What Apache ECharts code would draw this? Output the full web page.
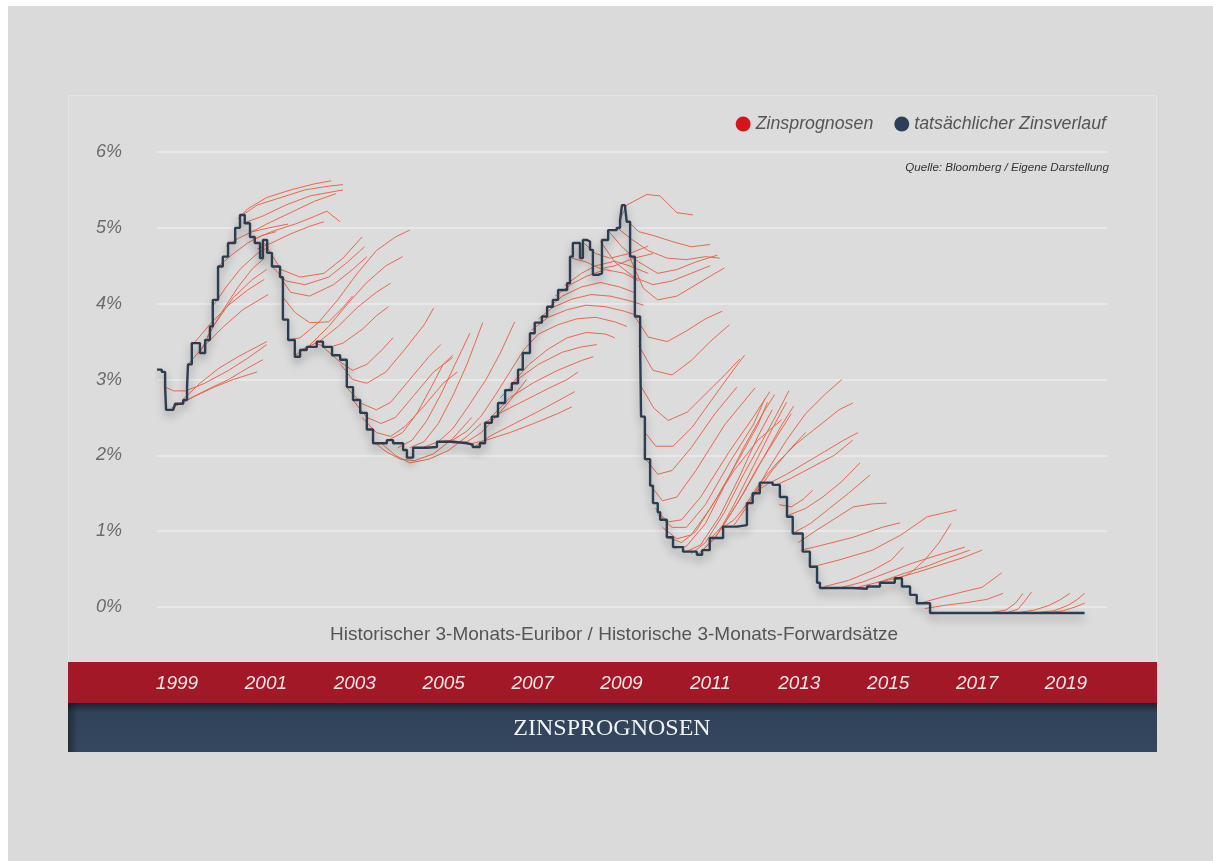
<!DOCTYPE html>
<html><head><meta charset="utf-8">
<script src="https://cdn.jsdelivr.net/npm/echarts@6/dist/echarts.min.js"></script>
<style>html,body{margin:0;padding:0;background:#fff;}#c{width:1213px;height:861px;}</style>
</head><body><div id="c"></div>
<script>
const yearLabels = ['1999','2001','2003','2005','2007','2009','2011','2013','2015','2017','2019'];
const yTicks = [0,1,2,3,4,5,6];

const euribor = [
[1999.00,3.13],[1999.10,3.10],[1999.17,2.90],[1999.19,2.60],[1999.34,2.60],[1999.38,2.68],[1999.55,2.73],[1999.63,2.90],[1999.65,3.20],[1999.73,3.48],[1999.84,3.48],[1999.90,3.35],[2000.01,3.52],[2000.11,3.70],[2000.17,4.05],[2000.28,4.49],[2000.38,4.62],[2000.49,4.80],[2000.64,5.00],[2000.74,5.17],[2000.84,5.06],[2000.95,4.88],[2001.05,4.80],[2001.16,4.60],[2001.22,4.84],[2001.31,4.67],[2001.41,4.49],[2001.58,4.35],[2001.64,3.79],[2001.75,3.52],[2001.89,3.30],[2002.00,3.39],[2002.14,3.43],[2002.35,3.50],[2002.48,3.43],[2002.67,3.32],[2002.84,3.26],[2002.98,2.90],[2003.11,2.73],[2003.26,2.56],[2003.40,2.34],[2003.53,2.16],[2003.68,2.16],[2003.82,2.20],[2003.95,2.16],[2004.16,2.07],[2004.24,1.97],[2004.37,2.10],[2004.66,2.11],[2004.87,2.18],[2005.21,2.16],[2005.50,2.14],[2005.62,2.11],[2005.77,2.16],[2005.88,2.43],[2006.02,2.51],[2006.15,2.69],[2006.30,2.86],[2006.44,2.95],[2006.57,3.13],[2006.67,3.35],[2006.82,3.61],[2006.92,3.75],[2007.07,3.83],[2007.18,3.96],[2007.30,4.05],[2007.41,4.18],[2007.60,4.27],[2007.66,4.62],[2007.72,4.80],[2007.81,4.80],[2007.87,4.60],[2007.93,4.84],[2008.01,4.82],[2008.08,4.71],[2008.14,4.38],[2008.25,4.40],[2008.33,4.84],[2008.46,4.97],[2008.64,5.00],[2008.71,5.10],[2008.75,5.30],[2008.81,5.30],[2008.85,5.08],[2008.92,4.62],[2009.02,3.83],[2009.13,3.48],[2009.15,2.51],[2009.23,1.95],[2009.34,1.60],[2009.40,1.37],[2009.50,1.25],[2009.55,1.15],[2009.69,0.92],[2009.82,0.79],[2010.03,0.73],[2010.32,0.69],[2010.43,0.75],[2010.59,0.91],[2010.87,1.06],[2011.16,1.08],[2011.37,1.37],[2011.49,1.50],[2011.64,1.64],[2011.91,1.61],[2012.06,1.45],[2012.21,1.19],[2012.33,0.97],[2012.54,0.73],[2012.69,0.53],[2012.84,0.32],[2012.90,0.25],[2013.32,0.25],[2013.59,0.24],[2013.89,0.27],[2014.16,0.32],[2014.47,0.38],[2014.62,0.27],[2014.79,0.16],[2014.93,0.05],[2015.21,-0.08],[2018.45,-0.08]
];

const fwd1999to2001 = [
[[1999.17,2.90],[1999.35,2.85],[1999.6,2.85],[2000.0,2.95],[2000.5,3.12],[2000.9,3.28],[2001.3,3.46]],
[[1999.3,2.62],[1999.6,2.72],[2000.0,2.85],[2000.5,3.0],[2000.9,3.15],[2001.22,3.26]],
[[1999.42,2.66],[1999.8,2.78],[2000.2,2.9],[2000.6,3.0],[2001.1,3.1]],
[[1999.55,2.74],[1999.9,2.95],[2000.3,3.15],[2000.7,3.3],[2001.3,3.5]],
[[1999.65,3.2],[2000.0,3.45],[2000.4,3.7],[2000.8,3.92],[2001.33,4.12]],
[[1999.75,3.46],[2000.1,3.72],[2000.5,3.98],[2000.9,4.18],[2001.25,4.32]],
[[1999.9,3.36],[2000.2,3.72],[2000.6,4.08],[2001.0,4.32],[2001.3,4.45]],
[[2000.05,3.56],[2000.35,3.88],[2000.7,4.22],[2001.0,4.46],[2001.25,4.6]],
[[2000.15,3.95],[2000.45,4.22],[2000.75,4.46],[2001.1,4.66],[2001.35,4.75]],
[[2000.3,4.5],[2000.6,4.66],[2000.9,4.8],[2001.2,4.9],[2001.5,4.95]],
[[2000.45,4.76],[2000.7,4.86],[2001.0,4.95],[2001.35,5.0],[2001.75,5.05]],
[[2000.7,5.12],[2000.9,5.25],[2001.3,5.4],[2001.8,5.5],[2002.3,5.58],[2002.65,5.62]],
[[2000.75,5.15],[2001.1,5.3],[2001.6,5.4],[2002.1,5.5],[2002.6,5.55],[2002.9,5.57]],
[[2000.8,5.06],[2001.2,5.15],[2001.7,5.3],[2002.2,5.42],[2002.9,5.5]],
[[2000.9,4.92],[2001.3,5.05],[2001.8,5.2],[2002.3,5.35],[2002.75,5.45]],
[[2001.0,4.84],[2001.4,4.95],[2001.9,5.05],[2002.3,5.15],[2002.56,5.22],[2002.84,5.08]],
[[2001.1,4.72],[2001.4,4.8],[2001.8,4.92],[2002.2,5.02],[2002.5,5.08]],
[[2001.25,4.8],[2001.6,4.45],[2002.0,4.35],[2002.5,4.4],[2002.9,4.6],[2003.3,4.88]],
[[2001.4,4.5],[2001.7,4.3],[2002.1,4.25],[2002.6,4.35],[2003.0,4.55],[2003.35,4.75]],
[[2001.55,4.38],[2001.8,4.15],[2002.2,4.1],[2002.7,4.25],[2003.1,4.45],[2003.4,4.62]],
[[2001.62,4.1],[2001.9,3.88],[2002.2,3.75],[2002.6,3.76],[2002.9,3.95],[2003.1,4.1]]
];

const fwd2002to2005 = [
[[2001.75,3.52],[2002.0,3.55],[2002.4,3.76],[2002.8,4.06],[2003.2,4.4],[2003.6,4.7],[2004.0,4.88],[2004.3,4.97]],
[[2001.9,3.32],[2002.2,3.45],[2002.6,3.7],[2003.0,4.0],[2003.4,4.28],[2003.8,4.5],[2004.15,4.62]],
[[2002.05,3.4],[2002.4,3.5],[2002.8,3.7],[2003.2,3.95],[2003.6,4.15],[2003.9,4.27]],
[[2002.3,3.48],[2002.6,3.42],[2002.9,3.48],[2003.3,3.66],[2003.6,3.84],[2003.85,3.96]],
[[2002.5,3.42],[2002.8,3.25],[2003.1,3.12],[2003.4,3.2],[2003.7,3.38],[2003.95,3.55]],
[[2002.85,3.2],[2003.1,3.0],[2003.4,2.95],[2003.8,3.1],[2004.2,3.4],[2004.6,3.72],[2004.8,3.94]],
[[2003.0,2.88],[2003.3,2.68],[2003.6,2.6],[2003.9,2.7],[2004.3,3.0],[2004.7,3.3],[2004.95,3.46]],
[[2003.12,2.72],[2003.4,2.5],[2003.7,2.42],[2004.0,2.5],[2004.4,2.8],[2004.8,3.1],[2005.2,3.29]],
[[2003.3,2.5],[2003.6,2.3],[2003.9,2.25],[2004.2,2.38],[2004.6,2.65],[2005.0,2.95],[2005.3,3.1]],
[[2003.5,2.2],[2003.8,2.05],[2004.1,1.95],[2004.4,1.93],[2004.8,2.02],[2005.2,2.22],[2005.6,2.5]],
[[2003.7,2.16],[2004.0,2.0],[2004.3,1.9],[2004.7,1.95],[2005.1,2.06],[2005.5,2.25],[2005.8,2.42]],
[[2003.85,2.2],[2004.15,2.3],[2004.45,2.55],[2004.75,2.9],[2005.0,3.2],[2005.2,3.32]],
[[2004.05,2.1],[2004.35,2.2],[2004.65,2.45],[2004.95,2.8],[2005.25,3.2],[2005.56,3.61]],
[[2004.3,2.1],[2004.6,2.18],[2004.9,2.42],[2005.2,2.78],[2005.5,3.2],[2005.83,3.75]],
[[2004.6,2.11],[2004.9,2.18],[2005.2,2.35],[2005.5,2.62],[2005.9,3.0],[2006.2,3.35],[2006.5,3.76]],
[[2004.9,2.18],[2005.2,2.2],[2005.5,2.32],[2005.8,2.52],[2006.1,2.8],[2006.4,3.1],[2006.7,3.4]],
[[2005.2,2.16],[2005.5,2.18],[2005.8,2.3],[2006.1,2.5],[2006.4,2.72],[2006.75,3.0]]
];

const fwd2006to2008 = [
[[2005.5,2.14],[2005.9,2.2],[2006.4,2.3],[2006.9,2.42],[2007.4,2.55],[2007.7,2.64]],
[[2005.65,2.11],[2006.0,2.26],[2006.5,2.42],[2007.0,2.58],[2007.5,2.75],[2007.76,2.84]],
[[2005.85,2.42],[2006.2,2.56],[2006.7,2.72],[2007.2,2.88],[2007.6,3.0],[2007.83,3.1]],
[[2006.0,2.5],[2006.4,2.76],[2006.9,2.96],[2007.4,3.12],[2007.9,3.25],[2008.15,3.3]],
[[2006.2,2.76],[2006.6,3.02],[2007.0,3.2],[2007.5,3.36],[2007.9,3.43],[2008.22,3.46]],
[[2006.45,2.95],[2006.8,3.2],[2007.2,3.4],[2007.6,3.55],[2008.0,3.62],[2008.4,3.6],[2008.6,3.55]],
[[2006.7,3.4],[2007.0,3.6],[2007.4,3.72],[2007.8,3.8],[2008.2,3.82],[2008.6,3.76],[2008.85,3.7]],
[[2006.85,3.65],[2007.2,3.82],[2007.6,3.92],[2008.0,3.98],[2008.4,3.96],[2008.8,3.9],[2009.1,3.84]],
[[2007.0,3.8],[2007.3,3.95],[2007.7,4.06],[2008.1,4.12],[2008.5,4.1],[2008.9,4.04],[2009.2,3.98]],
[[2007.15,3.92],[2007.5,4.1],[2007.9,4.22],[2008.3,4.28],[2008.7,4.22],[2009.0,4.15]],
[[2007.35,4.1],[2007.7,4.26],[2008.0,4.36],[2008.4,4.45],[2008.8,4.4],[2009.1,4.3]],
[[2007.55,4.24],[2007.9,4.4],[2008.2,4.5],[2008.6,4.56],[2008.9,4.5],[2009.3,4.4]],
[[2007.7,4.6],[2008.0,4.55],[2008.3,4.46],[2008.6,4.5],[2009.0,4.6],[2009.4,4.66]],
[[2007.95,4.8],[2008.2,4.66],[2008.5,4.6],[2008.9,4.66],[2009.3,4.76]],
[[2008.7,5.1],[2008.85,5.3],[2009.27,5.44],[2009.55,5.42],[2009.9,5.2],[2010.24,5.17]],
[[2008.85,5.1],[2009.1,4.95],[2009.4,4.9],[2009.8,4.82],[2010.2,4.75],[2010.6,4.78]],
[[2008.65,5.0],[2008.95,4.85],[2009.3,4.7],[2009.7,4.6],[2010.1,4.58],[2010.5,4.62],[2010.8,4.6]],
[[2008.45,4.97],[2008.75,4.75],[2009.1,4.55],[2009.5,4.4],[2009.9,4.45],[2010.3,4.55],[2010.75,4.64]],
[[2008.3,4.82],[2008.6,4.55],[2009.0,4.35],[2009.4,4.25],[2009.8,4.3],[2010.2,4.4],[2010.6,4.5]],
[[2008.92,4.6],[2009.2,4.2],[2009.5,4.05],[2009.9,4.1],[2010.3,4.25],[2010.7,4.4],[2010.9,4.47]]
];

const fwd2009to2012 = [
[[2009.02,3.83],[2009.3,3.56],[2009.7,3.5],[2010.1,3.64],[2010.5,3.8],[2010.85,3.9]],
[[2009.1,3.45],[2009.4,3.12],[2009.8,3.06],[2010.2,3.25],[2010.6,3.5],[2011.0,3.72]],
[[2009.14,2.92],[2009.42,2.62],[2009.72,2.46],[2010.12,2.57],[2010.52,2.82],[2010.92,3.07],[2011.22,3.27]],
[[2009.21,2.32],[2009.46,2.12],[2009.82,2.12],[2010.22,2.37],[2010.62,2.72],[2011.02,3.07],[2011.32,3.32]],
[[2009.25,1.95],[2009.5,1.75],[2009.8,1.8],[2010.2,2.1],[2010.7,2.55],[2011.16,2.9]],
[[2009.35,1.6],[2009.6,1.4],[2009.9,1.45],[2010.3,1.8],[2010.9,2.4],[2011.54,2.89]],
[[2009.45,1.3],[2009.7,1.12],[2010.0,1.15],[2010.4,1.45],[2011.0,2.05],[2011.5,2.5],[2011.85,2.84]],
[[2009.5,1.22],[2009.8,1.05],[2010.1,1.05],[2010.5,1.35],[2011.0,1.9],[2011.5,2.4],[2011.75,2.75]],
[[2009.6,1.05],[2009.9,0.9],[2010.2,0.95],[2010.6,1.3],[2011.1,1.8],[2011.6,2.2],[2012.1,2.47]],
[[2009.7,0.92],[2010.0,0.85],[2010.3,1.0],[2010.7,1.4],[2011.2,1.95],[2011.6,2.4],[2011.8,2.7]],
[[2009.85,0.78],[2010.1,0.8],[2010.5,1.1],[2010.9,1.6],[2011.3,2.1],[2011.7,2.55],[2011.95,2.8]],
[[2010.1,0.73],[2010.4,0.82],[2010.8,1.2],[2011.2,1.7],[2011.6,2.25],[2011.9,2.6]],
[[2010.2,0.7],[2010.5,0.85],[2010.9,1.25],[2011.3,1.75],[2011.7,2.2],[2012.0,2.55],[2012.25,2.85]],
[[2010.35,0.7],[2010.7,0.9],[2011.1,1.35],[2011.5,1.85],[2011.9,2.35],[2012.2,2.7]],
[[2010.45,0.75],[2010.8,1.0],[2011.2,1.4],[2011.6,1.85],[2012.0,2.25],[2012.3,2.55]],
[[2010.6,0.9],[2010.9,1.1],[2011.3,1.5],[2011.7,1.95],[2012.1,2.4],[2012.35,2.65]],
[[2010.8,1.02],[2011.1,1.15],[2011.5,1.45],[2011.9,1.8],[2012.3,2.1],[2012.6,2.3]],
[[2011.1,1.08],[2011.4,1.35],[2011.8,1.8],[2012.2,2.2],[2012.6,2.55],[2013.0,2.8],[2013.36,3.0]],
[[2011.3,1.3],[2011.6,1.6],[2012.0,1.9],[2012.4,2.15],[2012.9,2.4],[2013.3,2.6],[2013.59,2.69]],
[[2011.5,1.5],[2011.8,1.62],[2012.2,1.75],[2012.6,1.9],[2013.0,2.05],[2013.4,2.2],[2013.7,2.3]],
[[2011.95,1.6],[2012.3,1.7],[2012.75,1.85],[2013.2,2.0],[2013.59,2.2]],
[[2012.05,1.35],[2012.3,1.32],[2012.55,1.42],[2012.75,1.54]],
[[2012.2,1.2],[2012.6,1.3],[2012.96,1.45],[2013.35,1.65],[2013.74,1.9]],
[[2012.33,0.97],[2012.7,1.1],[2013.1,1.3],[2013.5,1.5],[2013.95,1.74]],
[[2012.45,0.85],[2012.8,1.0],[2013.05,1.1],[2013.6,1.32],[2014.0,1.36],[2014.3,1.37]],
[[2012.5,0.75],[2012.85,0.8],[2013.6,0.92],[2014.2,1.05],[2014.58,1.11]]
];

const fwd2013to2018 = [
[[2012.75,0.53],[2013.3,0.62],[2014.0,0.75],[2014.6,0.95],[2015.15,1.19],[2015.77,1.28]],
[[2013.0,0.27],[2013.5,0.35],[2014.0,0.48],[2014.4,0.62],[2014.65,0.79]],
[[2013.3,0.25],[2013.8,0.33],[2014.3,0.45],[2014.8,0.57],[2015.3,0.67],[2015.94,0.79]],
[[2013.7,0.26],[2014.2,0.34],[2014.7,0.45],[2015.2,0.55],[2015.6,0.65],[2016.04,0.75]],
[[2014.1,0.32],[2014.5,0.38],[2014.9,0.45],[2015.4,0.55],[2015.9,0.65],[2016.3,0.75]],
[[2014.5,0.36],[2014.8,0.45],[2015.1,0.62],[2015.4,0.85],[2015.65,1.1]],
[[2015.0,0.05],[2015.4,0.12],[2015.9,0.2],[2016.3,0.26],[2016.71,0.45]],
[[2015.1,-0.02],[2015.5,0.02],[2016.0,0.06],[2016.4,0.1],[2016.74,0.18]],
[[2016.5,-0.07],[2016.8,-0.04],[2017.0,0.05],[2017.16,0.18]],
[[2016.85,-0.07],[2017.05,-0.03],[2017.2,0.08],[2017.34,0.2]],
[[2017.1,-0.07],[2017.4,-0.04],[2017.7,0.02],[2017.95,0.1],[2018.14,0.18]],
[[2017.5,-0.07],[2017.8,-0.05],[2018.1,0.02],[2018.3,0.1],[2018.45,0.18]],
[[2017.75,-0.07],[2018.0,-0.05],[2018.25,0.0],[2018.45,0.05]]
];

const FONT = '"Liberation Sans", Arial, sans-serif';
const FWD_COLOR = '#e6694f';
const allForwards = [].concat(fwd1999to2001, fwd2002to2005, fwd2006to2008, fwd2009to2012, fwd2013to2018);

const forwardSeries = allForwards.map((curve, i) => ({
  type: 'line', id: 'fwd' + i, name: 'Zinsprognosen', data: curve,
  symbol: 'none', showSymbol: false, clip: false, silent: true, z: 3,
  legendHoverLink: false, color: FWD_COLOR,
  emphasis: { disabled: true },
  lineStyle: { color: FWD_COLOR, width: 1, opacity: 1 },
  itemStyle: { color: '#d3161d' }
}));

const chart = echarts.init(document.getElementById('c'));
chart.setOption({
  animation: false,
  grid: [
    { left: 157, right: 106, top: 152, bottom: 254 },
    { left: 132.55, right: 102.55, top: 662, height: 41 }
  ],
  legend: {
    right: 102, top: 110, icon: 'circle', itemWidth: 15, itemHeight: 15, itemGap: 21,
    textStyle: { fontStyle: 'italic', fontSize: 17.8, color: '#555', fontFamily: FONT },
    data: [
      { name: 'Zinsprognosen', itemStyle: { color: '#d3161d' } },
      { name: 'tatsächlicher Zinsverlauf', itemStyle: { color: '#2d3f57' } }
    ]
  },
  xAxis: [
    { type: 'value', gridIndex: 0, min: 1999, max: 2018.92, show: false },
    { type: 'category', gridIndex: 1, data: yearLabels,
      axisLine: { show: false }, axisTick: { show: false }, splitLine: { show: false },
      axisLabel: { inside: true, margin: 10, color: '#f4e6e7', fontSize: 19, fontStyle: 'italic', fontFamily: FONT } }
  ],
  yAxis: [
    { type: 'value', gridIndex: 0, min: yTicks[0], max: yTicks[yTicks.length - 1], interval: 1,
      axisLine: { show: false }, axisTick: { show: false },
      axisLabel: { formatter: '{value}%', margin: 35, color: '#6b6b6b', fontSize: 18, fontStyle: 'italic', fontFamily: FONT },
      splitLine: { lineStyle: { color: '#ededed', width: 1.5 } } },
    { type: 'value', gridIndex: 1, show: false }
  ],
  graphic: [
    { type: 'rect', z: -20, shape: { x: 8, y: 6, width: 1205, height: 855 }, style: { fill: '#d9dad9' } },
    { type: 'rect', z: -19, shape: { x: 68.5, y: 95.5, width: 1088, height: 567 }, style: { fill: '#dcdcdc', stroke: '#e4e4e4', lineWidth: 1 } },
    { type: 'rect', z: -18, shape: { x: 68, y: 662, width: 1089, height: 41 }, style: { fill: '#a31827' } },
    { type: 'rect', z: -18, shape: { x: 68, y: 703, width: 1089, height: 49 },
      style: { fill: new echarts.graphic.LinearGradient(0, 0, 0, 1, [
        { offset: 0, color: '#1b2430' }, { offset: 0.2, color: '#31435a' }, { offset: 1, color: '#35475e' }]) } },
    { type: 'rect', z: -17, shape: { x: 68, y: 703, width: 10, height: 49 },
      style: { fill: new echarts.graphic.LinearGradient(0, 0, 1, 0, [
        { offset: 0, color: 'rgba(0,0,0,0.35)' }, { offset: 1, color: 'rgba(0,0,0,0)' }]) } },
    { type: 'text', z: 10, x: 614, y: 635,
      style: { text: 'Historischer 3-Monats-Euribor / Historische 3-Monats-Forwardsätze', fill: '#555',
        font: '19px ' + FONT, textAlign: 'center', textVerticalAlign: 'middle' } },
    { type: 'text', z: 10, x: 1109, y: 168,
      style: { text: 'Quelle: Bloomberg / Eigene Darstellung', fill: '#333',
        font: 'italic 11.6px ' + FONT, textAlign: 'right', textVerticalAlign: 'middle' } },
    { type: 'text', z: 10, x: 612, y: 729,
      style: { text: 'ZINSPROGNOSEN', fill: '#f2f2f2',
        font: '24px "Liberation Serif", "DejaVu Serif", serif', textAlign: 'center', textVerticalAlign: 'middle' } }
  ],
  series: forwardSeries.concat([
    { type: 'line', id: 'euribor', name: 'tatsächlicher Zinsverlauf', data: euribor, step: 'end',
      symbol: 'none', showSymbol: false, clip: false, silent: true, z: 6, legendHoverLink: false,
      emphasis: { disabled: true },
      lineStyle: { color: '#2c3c51', width: 2.4, shadowColor: 'rgba(0,0,0,0.35)', shadowBlur: 8, shadowOffsetY: 5 },
      itemStyle: { color: '#2d3f57' } },
    { type: 'line', id: 'yearAxisHolder', xAxisIndex: 1, yAxisIndex: 1, data: [], silent: true }
  ])
});
</script></body></html>
